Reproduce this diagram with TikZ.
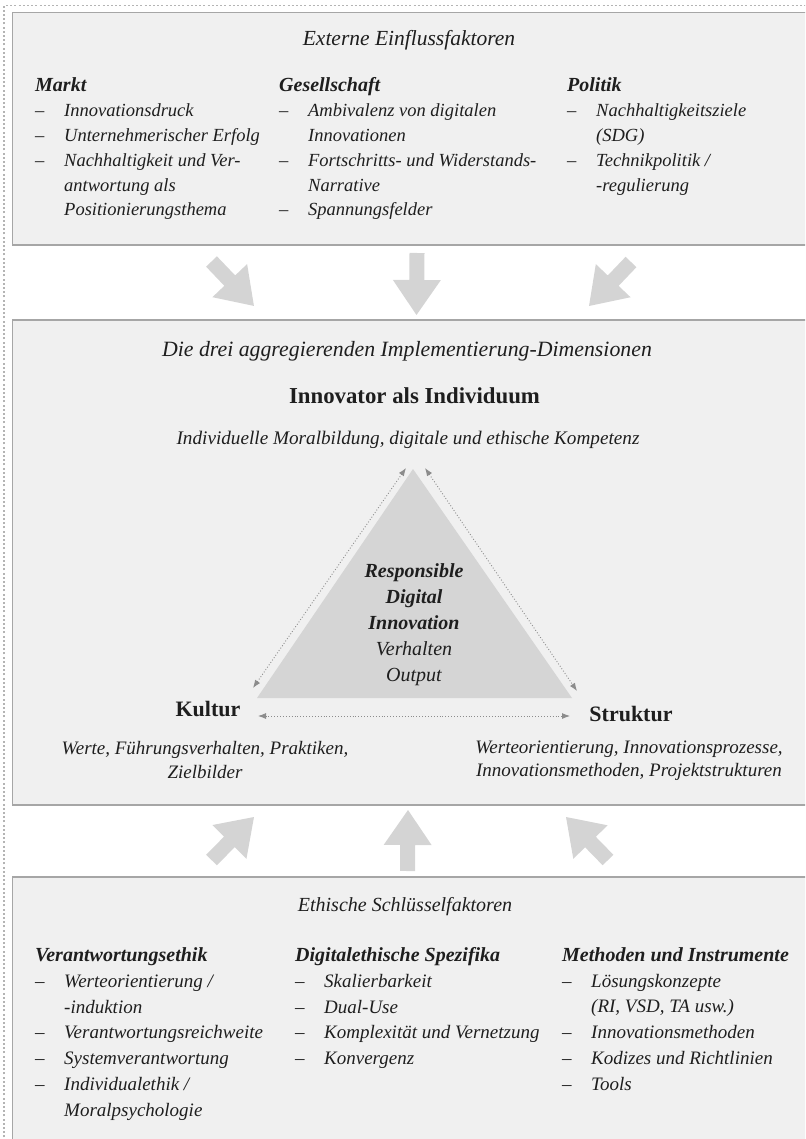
\documentclass[tikz,border=0pt]{standalone}
\usepackage{fontspec}
\setmainfont{Liberation Serif}
\usetikzlibrary{calc,arrows.meta}

\definecolor{panelfill}{HTML}{F0F0F0}
\definecolor{panelline}{HTML}{A6A6A6}
\definecolor{framedots}{HTML}{B4B4B4}
\definecolor{arrowfill}{HTML}{D4D4D4}
\definecolor{trifill}{HTML}{D5D5D5}
\definecolor{linkgray}{HTML}{8C8C8C}
\definecolor{ink}{HTML}{1E1E1E}

% list bullets: a dash in a fixed-width box, and the matching indent
\newcommand\itm{\makebox[29pt][l]{–}}
\newcommand\cnt{\hspace*{29pt}}
% column heading, slightly larger than the list items
\newcommand\colhead[1]{{\fontsize{20}{24}\selectfont\bfseries #1}}

% block arrow from a tail coordinate to a tip coordinate
\newcommand\blockarrow[2]{%
  \path let \p1=($(#2)-(#1)$), \n1={atan2(\y1,\x1)}, \n2={veclen(\x1,\y1)} in
    \pgfextra{\xdef\baang{\n1}\xdef\balen{\n2}};
  \fill[arrowfill, shift={(#1)}, rotate=\baang]
    (0,7.5) -- ({\balen-35},7.5) -- ({\balen-35},24) -- ({\balen},0)
    -- ({\balen-35},-24) -- ({\balen-35},-7.5) -- (0,-7.5) -- cycle;
}

\tikzset{
  panel/.style={draw=panelline, line width=1.3pt, fill=panelfill},
  txt/.style={inner sep=0pt, text=ink, font=\fontsize{19}{24}\selectfont\itshape},
  title/.style={txt, anchor=base},
  % multi-line nodes are placed by the baseline of their last line
  col/.style={txt, anchor=base west, align=left, font=\fontsize{18.5}{24.8}\selectfont\itshape},
  colb/.style={col, font=\fontsize{19}{25.7}\selectfont\itshape},
  dimhead/.style={txt, anchor=base, font=\fontsize{22}{26}\selectfont\bfseries},
  dimtext/.style={txt, anchor=base, align=center, font=\fontsize{19}{23.5}\selectfont\itshape},
  link/.style={draw=linkgray, line width=0.9pt, dash pattern=on 0.9pt off 2pt,
    {Latex[length=8pt,width=6pt]}-{Latex[length=8pt,width=6pt]}},
}

\begin{document}
\begin{tikzpicture}[x=1pt,y=-1pt]
\useasboundingbox (0,0) rectangle (805,1139);
\clip (0,0) rectangle (805,1139);

% dotted outer frame
\draw[framedots, line width=1.2pt, dash pattern=on 2pt off 2.2pt]
  (4,1150) -- (4,5.5) -- (820,5.5);

% the three panels
\draw[panel] (12.5,12.5) rectangle (830,245);
\draw[panel] (12.5,320) rectangle (830,805);
\draw[panel] (12.5,877) rectangle (830,1160);

% ---------- external factors ----------
\node[title, font=\fontsize{21.5}{24}\selectfont\itshape] (ext) at (409,46) {Externe Einflussfaktoren};
\node[col] (markt) at (35,216) {\colhead{Markt}\\
  \itm Innovationsdruck\\
  \itm Unternehmerischer Erfolg\\
  \itm Nachhaltigkeit und Ver-\\
  \cnt antwortung als\\
  \cnt Positionierungsthema};
\node[col] (ges) at (279,216) {\colhead{Gesellschaft}\\
  \itm Ambivalenz von digitalen\\
  \cnt Innovationen\\
  \itm Fortschritts- und Widerstands-\\
  \cnt Narrative\\
  \itm Spannungsfelder};
\node[col] (pol) at (567,191.2) {\colhead{Politik}\\
  \itm Nachhaltigkeitsziele\\
  \cnt (SDG)\\
  \itm Technikpolitik /\\
  \cnt -regulierung};

% arrows into the middle panel
\coordinate (ta1) at (211.5,261.5); \coordinate (tp1) at (254,306);
\coordinate (ta2) at (417,253);     \coordinate (tp2) at (416.5,315);
\coordinate (ta3) at (631,262);     \coordinate (tp3) at (589,306);
\blockarrow{ta1}{tp1}
\blockarrow{ta2}{tp2}
\blockarrow{ta3}{tp3}

% ---------- implementation dimensions ----------
\node[title, font=\fontsize{21.8}{24}\selectfont\itshape] (dims) at (407,356) {Die drei aggregierenden Implementierung-Dimensionen};
\node[dimhead, font=\fontsize{22.8}{26}\selectfont\bfseries] (innov) at (414.5,403) {Innovator als Individuum};
\node[title, font=\fontsize{19.2}{24}\selectfont\itshape] (innovtxt) at (408,444) {Individuelle Moralbildung, digitale und ethische Kompetenz};

\coordinate (apex) at (413,469);
\coordinate (bl) at (257,698);
\coordinate (br) at (572,698);
\fill[trifill] (apex) -- (br) -- (bl) -- cycle;

\node[txt, anchor=base, align=center, font=\fontsize{20}{26}\selectfont\itshape] (rdi) at (414,681)
  {\textbf{Responsible}\\ \textbf{Digital}\\ \textbf{Innovation}\\ Verhalten\\ Output};

\coordinate (lkA) at (253,688);  \coordinate (lkB) at (406,468);
\coordinate (rkA) at (425,468);  \coordinate (rkB) at (577,691);
\coordinate (bkA) at (258,716);  \coordinate (bkB) at (570,716);
\draw[link] (lkA) -- (lkB);
\draw[link] (rkA) -- (rkB);
\draw[link] (bkA) -- (bkB);

\node[dimhead] (kultur) at (208,716) {Kultur};
\node[dimtext] (kulturtxt) at (205,778) {Werte, Führungsverhalten, Praktiken,\\ Zielbilder};
\node[dimhead] (struktur) at (631,721) {Struktur};
\node[dimtext] (strukturtxt) at (629,776.5) {Werteorientierung, Innovationsprozesse,\\ Innovationsmethoden, Projektstrukturen};

% arrows out of the bottom panel
\coordinate (ba1) at (211.5,860); \coordinate (bp1) at (254,817);
\coordinate (ba2) at (407.5,871); \coordinate (bp2) at (408,810);
\coordinate (ba3) at (608,860);   \coordinate (bp3) at (566,817);
\blockarrow{ba1}{bp1}
\blockarrow{ba2}{bp2}
\blockarrow{ba3}{bp3}

% ---------- ethical key factors ----------
\node[title, font=\fontsize{20}{24}\selectfont\itshape] (eth) at (405,911) {Ethische Schlüsselfaktoren};
\node[colb] (vera) at (35,1116) {\colhead{Verantwortungsethik}\\
  \itm Werteorientierung /\\
  \cnt -induktion\\
  \itm Verantwortungsreichweite\\
  \itm Systemverantwortung\\
  \itm Individualethik /\\
  \cnt Moralpsychologie};
\node[colb] (digi) at (295,1064.5) {\colhead{Digitalethische Spezifika}\\
  \itm Skalierbarkeit\\
  \itm Dual-Use\\
  \itm Komplexität und Vernetzung\\
  \itm Konvergenz};
\node[colb] (meth) at (562,1090) {\colhead{Methoden und Instrumente}\\
  \itm Lösungskonzepte\\
  \cnt (RI, VSD, TA usw.)\\
  \itm Innovationsmethoden\\
  \itm Kodizes und Richtlinien\\
  \itm Tools};
\end{tikzpicture}
\end{document}
